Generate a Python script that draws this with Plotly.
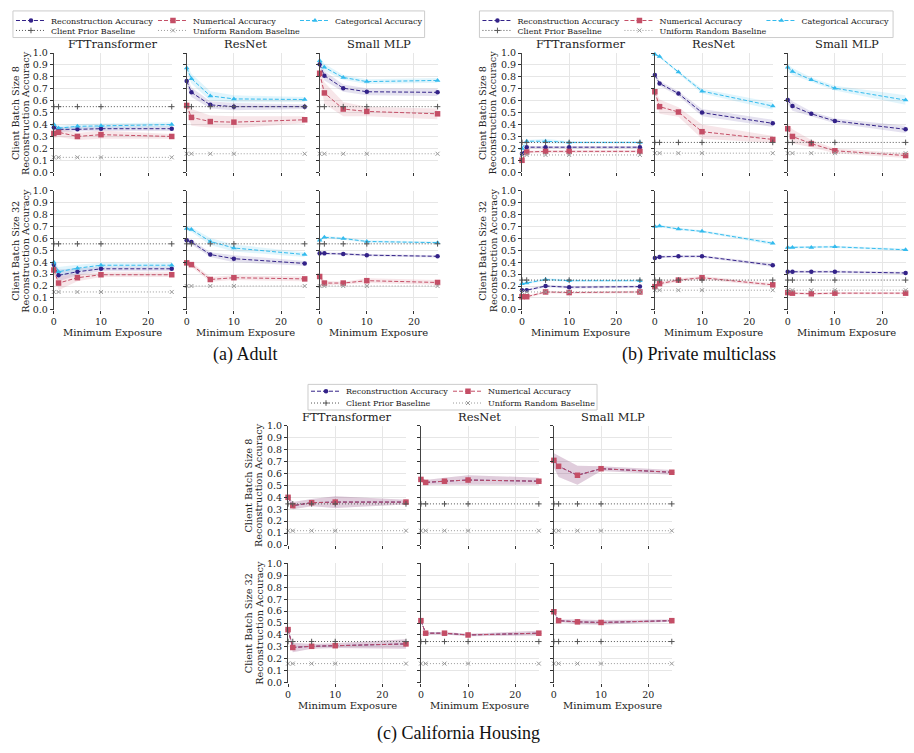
import plotly.graph_objects as go

W, H = 914, 753

# ---------------- data ----------------
X = [0, 1, 5, 10, 25]
MODELS = ["FTTransformer", "ResNet", "Small MLP"]
X_TICKS = [0, 10, 20]
Y_TICKS = [0.0, 0.1, 0.2, 0.3, 0.4, 0.5, 0.6, 0.7, 0.8, 0.9, 1.0]
Y_TICKTEXT = ["0.0", "0.1", "0.2", "0.3", "0.4", "0.5", "0.6", "0.7", "0.8", "0.9", "1.0"]
ROW_LABELS = ["Client Batch Size 8", "Client Batch Size 32"]
CAPTIONS = ["(a) Adult", "(b) Private multiclass", "(c) California Housing"]
SERIES_NAMES = ["Reconstruction Accuracy", "Numerical Accuracy", "Categorical Accuracy"]
BASELINE_NAMES = ["Client Prior Baseline", "Uniform Random Baseline"]

# Adult, batch 8 (per model: FTTransformer, ResNet, Small MLP)
adult_b8_recon = [[0.375, 0.36, 0.36, 0.365, 0.365], [0.765, 0.67, 0.565, 0.55, 0.55], [0.905, 0.81, 0.705, 0.675, 0.67]]
adult_b8_num = [[0.325, 0.335, 0.30, 0.315, 0.30], [0.56, 0.46, 0.425, 0.42, 0.44], [0.83, 0.665, 0.53, 0.51, 0.49]]
adult_b8_cat = [[0.40, 0.37, 0.385, 0.39, 0.40], [0.875, 0.785, 0.64, 0.615, 0.61], [0.935, 0.88, 0.795, 0.76, 0.77]]
adult_b8_recon_err = [[0.02, 0.02, 0.02, 0.02, 0.02], [0.04, 0.04, 0.03, 0.03, 0.02], [0.03, 0.04, 0.03, 0.03, 0.03]]
adult_b8_num_err = [[0.04, 0.04, 0.03, 0.035, 0.02], [0.04, 0.07, 0.05, 0.05, 0.03], [0.04, 0.09, 0.06, 0.04, 0.045]]
adult_b8_cat_err = [[0.02, 0.02, 0.02, 0.02, 0.02], [0.03, 0.04, 0.04, 0.03, 0.02], [0.03, 0.03, 0.02, 0.02, 0.02]]
adult_b8_prior = [0.55, 0.55, 0.55]
adult_b8_uniform = [0.125, 0.155, 0.155]

# Adult, batch 32
adult_b32_recon = [[0.38, 0.29, 0.32, 0.345, 0.345], [0.585, 0.57, 0.465, 0.43, 0.39], [0.475, 0.475, 0.47, 0.46, 0.45]]
adult_b32_num = [[0.335, 0.225, 0.27, 0.295, 0.295], [0.395, 0.38, 0.255, 0.27, 0.26], [0.28, 0.225, 0.225, 0.245, 0.23]]
adult_b32_cat = [[0.40, 0.32, 0.35, 0.375, 0.375], [0.685, 0.675, 0.575, 0.52, 0.465], [0.585, 0.61, 0.60, 0.575, 0.565]]
adult_b32_recon_err = [[0.03, 0.05, 0.03, 0.02, 0.02], [0.02, 0.02, 0.02, 0.03, 0.02], [0.01, 0.01, 0.01, 0.01, 0.01]]
adult_b32_num_err = [[0.03, 0.06, 0.03, 0.02, 0.02], [0.02, 0.02, 0.02, 0.02, 0.02], [0.02, 0.02, 0.01, 0.02, 0.02]]
adult_b32_cat_err = [[0.02, 0.04, 0.03, 0.02, 0.02], [0.02, 0.02, 0.03, 0.03, 0.02], [0.01, 0.01, 0.01, 0.01, 0.01]]
adult_b32_prior = [0.555, 0.555, 0.555]
adult_b32_uniform = [0.15, 0.20, 0.20]

# Private multiclass, batch 8
priv_b8_recon = [[0.155, 0.21, 0.21, 0.21, 0.21], [0.815, 0.745, 0.66, 0.50, 0.41], [0.605, 0.555, 0.49, 0.43, 0.36]]
priv_b8_num = [[0.10, 0.17, 0.175, 0.175, 0.175], [0.675, 0.55, 0.505, 0.34, 0.275], [0.365, 0.30, 0.24, 0.18, 0.14]]
priv_b8_cat = [[0.20, 0.26, 0.26, 0.25, 0.25], [0.99, 0.97, 0.84, 0.68, 0.555], [0.88, 0.845, 0.775, 0.705, 0.605]]
priv_b8_recon_err = [[0.02, 0.01, 0.01, 0.01, 0.01], [0.02, 0.02, 0.02, 0.03, 0.03], [0.03, 0.04, 0.02, 0.02, 0.03]]
priv_b8_num_err = [[0.02, 0.01, 0.01, 0.01, 0.01], [0.03, 0.06, 0.04, 0.06, 0.03], [0.04, 0.06, 0.03, 0.02, 0.02]]
priv_b8_cat_err = [[0.02, 0.01, 0.02, 0.01, 0.01], [0.01, 0.01, 0.01, 0.02, 0.03], [0.03, 0.03, 0.02, 0.02, 0.04]]
priv_b8_prior = [0.25, 0.25, 0.25]
priv_b8_uniform = [0.145, 0.16, 0.16]

# Private multiclass, batch 32
priv_b32_recon = [[0.165, 0.165, 0.20, 0.19, 0.195], [0.435, 0.445, 0.45, 0.45, 0.375], [0.32, 0.32, 0.32, 0.32, 0.31]]
priv_b32_num = [[0.11, 0.11, 0.15, 0.145, 0.15], [0.195, 0.22, 0.25, 0.27, 0.21], [0.145, 0.14, 0.135, 0.14, 0.14]]
priv_b32_cat = [[0.22, 0.225, 0.255, 0.245, 0.245], [0.70, 0.705, 0.68, 0.66, 0.56], [0.525, 0.525, 0.525, 0.53, 0.505]]
priv_b32_recon_err = [[0.01, 0.01, 0.01, 0.01, 0.01], [0.01, 0.01, 0.01, 0.01, 0.015], [0.01, 0.01, 0.01, 0.01, 0.01]]
priv_b32_num_err = [[0.01, 0.01, 0.01, 0.01, 0.01], [0.015, 0.015, 0.015, 0.015, 0.015], [0.01, 0.01, 0.01, 0.01, 0.01]]
priv_b32_cat_err = [[0.01, 0.01, 0.01, 0.01, 0.01], [0.01, 0.01, 0.01, 0.01, 0.015], [0.01, 0.01, 0.01, 0.01, 0.01]]
priv_b32_prior = [0.25, 0.25, 0.25]
priv_b32_uniform = [0.15, 0.165, 0.165]

# California Housing (numerical only: reconstruction == numerical)
cal_b8_recon = [[0.40, 0.33, 0.355, 0.36, 0.36], [0.55, 0.525, 0.535, 0.545, 0.535], [0.71, 0.66, 0.585, 0.64, 0.61]]
cal_b8_num = [[0.40, 0.33, 0.355, 0.36, 0.36], [0.55, 0.525, 0.535, 0.545, 0.535], [0.71, 0.66, 0.585, 0.64, 0.61]]
cal_b8_err = [[0.01, 0.03, 0.03, 0.05, 0.02], [0.02, 0.02, 0.03, 0.04, 0.03], [0.06, 0.09, 0.08, 0.02, 0.02]]
cal_b8_prior = [0.345, 0.345, 0.345]
cal_b8_uniform = [0.12, 0.12, 0.12]

cal_b32_recon = [[0.445, 0.295, 0.305, 0.31, 0.325], [0.52, 0.415, 0.415, 0.40, 0.415], [0.595, 0.52, 0.51, 0.505, 0.52]]
cal_b32_num = [[0.445, 0.295, 0.305, 0.31, 0.325], [0.52, 0.415, 0.415, 0.40, 0.415], [0.595, 0.52, 0.51, 0.505, 0.52]]
cal_b32_err = [[0.01, 0.04, 0.02, 0.02, 0.04], [0.01, 0.01, 0.01, 0.01, 0.02], [0.01, 0.01, 0.02, 0.02, 0.01]]
cal_b32_prior = [0.345, 0.345, 0.345]
cal_b32_uniform = [0.16, 0.16, 0.16]

# ---------------- styles ----------------
C_RECON = "#332288"
C_NUM = "#c44e66"
C_CAT = "#33bbee"
C_PRIOR = "#555555"
C_UNIF = "#9a9a9a"
F_RECON = "rgba(51,34,136,0.13)"
F_NUM = "rgba(196,78,102,0.14)"
F_CAT = "rgba(51,187,238,0.15)"
SERIF = "DejaVu Serif"

# group geometry in pixels
GROUPS = [
    dict(cols=[(51, 169.3), (184.3, 302.7), (317.7, 436)], rows=[(47.7, 168.7), (187.7, 308.3)],
         title_y=39, xtitle_y=331, ylab_x=(12.5, 22.5), legend_x=8, legend_rows=(13, 24.6),
         box=(10, 5, 423, 32), caption=(243, 354)),
    dict(cols=[(520.7, 639), (654, 772.3), (787.3, 905.6)], rows=[(47.7, 168.7), (187.7, 308.3)],
         title_y=39, xtitle_y=331, ylab_x=(481, 491.5), legend_x=476, legend_rows=(13, 24.6),
         box=(478, 5, 893, 32), caption=(698, 354)),
    dict(cols=[(286, 404.3), (419.3, 537.6), (552.7, 671)], rows=[(426, 547), (565.7, 686.7)],
         title_y=417.5, xtitle_y=709.5, ylab_x=(246, 256.5), legend_x=304, legend_rows=(390.7, 402.7),
         box=(306, 384, 596, 410), caption=(457, 738)),
]

DATA = [
    [  # Adult
        dict(recon=adult_b8_recon, num=adult_b8_num, cat=adult_b8_cat, recon_err=adult_b8_recon_err,
             num_err=adult_b8_num_err, cat_err=adult_b8_cat_err, prior=adult_b8_prior, unif=adult_b8_uniform),
        dict(recon=adult_b32_recon, num=adult_b32_num, cat=adult_b32_cat, recon_err=adult_b32_recon_err,
             num_err=adult_b32_num_err, cat_err=adult_b32_cat_err, prior=adult_b32_prior, unif=adult_b32_uniform),
    ],
    [  # Private multiclass
        dict(recon=priv_b8_recon, num=priv_b8_num, cat=priv_b8_cat, recon_err=priv_b8_recon_err,
             num_err=priv_b8_num_err, cat_err=priv_b8_cat_err, prior=priv_b8_prior, unif=priv_b8_uniform),
        dict(recon=priv_b32_recon, num=priv_b32_num, cat=priv_b32_cat, recon_err=priv_b32_recon_err,
             num_err=priv_b32_num_err, cat_err=priv_b32_cat_err, prior=priv_b32_prior, unif=priv_b32_uniform),
    ],
    [  # California Housing
        dict(recon=cal_b8_recon, num=cal_b8_num, cat=None, recon_err=cal_b8_err,
             num_err=cal_b8_err, cat_err=None, prior=cal_b8_prior, unif=cal_b8_uniform),
        dict(recon=cal_b32_recon, num=cal_b32_num, cat=None, recon_err=cal_b32_err,
             num_err=cal_b32_err, cat_err=None, prior=cal_b32_prior, unif=cal_b32_uniform),
    ],
]

LEG_TEXT_CENTER = 14.5  # px from legend top to the centre of its text row


def fx(p):
    return p / W


def fy(p):
    return 1 - p / H


fig = go.Figure()
layout = dict(
    width=W, height=H, margin=dict(l=0, r=0, t=0, b=0),
    paper_bgcolor="white", plot_bgcolor="white",
    font=dict(family=SERIF, size=10, color="#222"),
)
annotations = []
shapes = []

k = 0
for gi, geo in enumerate(GROUPS):
    leg_main = "legend" if gi == 0 else f"legend{2 * gi + 1}"
    leg_base = f"legend{2 * gi + 2}"
    for ri in range(2):
        d = DATA[gi][ri]
        y0p, y1p = geo["rows"][ri]
        for ci in range(3):
            k += 1
            xa = "x" if k == 1 else f"x{k}"
            ya = "y" if k == 1 else f"y{k}"
            x0p, x1p = geo["cols"][ci]
            first = (ri == 0 and ci == 0)
            layout["xaxis" if k == 1 else f"xaxis{k}"] = dict(
                domain=[fx(x0p), fx(x1p)], anchor=ya, range=[0, 25],
                tickvals=X_TICKS, ticks="outside", ticklen=3, tickwidth=1, tickcolor="#333",
                showticklabels=(ri == 1), tickfont=dict(family=SERIF, size=9.5, color="#222"),
                showgrid=True, gridcolor="#e6e6e6", gridwidth=0.8, zeroline=False, showline=False,
                title=dict(text=""),
            )
            layout["yaxis" if k == 1 else f"yaxis{k}"] = dict(
                domain=[fy(y1p), fy(y0p)], anchor=xa, range=[0, 1.0],
                tickvals=Y_TICKS, ticktext=Y_TICKTEXT, ticks="outside", ticklen=3, tickwidth=1, tickcolor="#333",
                showticklabels=(ci == 0), tickfont=dict(family=SERIF, size=9.5, color="#222"),
                showgrid=True, gridcolor="#e6e6e6", gridwidth=0.8, zeroline=False,
                showline=True, linecolor="#444", linewidth=1.2,
            )

            series = [
                (SERIES_NAMES[0], d["recon"], d["recon_err"], C_RECON, F_RECON, "circle", 4.5),
                (SERIES_NAMES[1], d["num"], d["num_err"], C_NUM, F_NUM, "square", 5.5),
            ]
            if d["cat"] is not None:
                series.append((SERIES_NAMES[2], d["cat"], d["cat_err"], C_CAT, F_CAT, "triangle-up", 5))

            # bands
            for name, vals, errs, col, fcol, sym, ms in series:
                v = vals[ci]
                e = errs[ci]
                upper = [a + b for a, b in zip(v, e)]
                lower = [a - b for a, b in zip(v, e)]
                fig.add_trace(go.Scatter(
                    x=X + X[::-1], y=upper + lower[::-1], fill="toself", fillcolor=fcol,
                    line=dict(width=0), mode="lines", hoverinfo="skip", showlegend=False,
                    xaxis=xa, yaxis=ya,
                ))
            # lines
            for name, vals, errs, col, fcol, sym, ms in series:
                fig.add_trace(go.Scatter(
                    x=X, y=vals[ci], mode="lines+markers", name=name,
                    line=dict(color=col, width=1, dash="4px,2px"),
                    marker=dict(symbol=sym, size=ms, color=col),
                    showlegend=first, legend=leg_main, cliponaxis=False,
                    xaxis=xa, yaxis=ya,
                ))
            # baselines
            for name, val, col, sym in [
                (BASELINE_NAMES[0], d["prior"][ci], C_PRIOR, "cross-thin"),
                (BASELINE_NAMES[1], d["unif"][ci], C_UNIF, "x-thin"),
            ]:
                fig.add_trace(go.Scatter(
                    x=X, y=[val] * len(X), mode="lines+markers", name=name,
                    line=dict(color=col, width=1, dash="1px,2px"),
                    marker=dict(symbol=sym, size=4, color=col, line=dict(width=1, color=col)),
                    showlegend=first, legend=leg_base, cliponaxis=False,
                    xaxis=xa, yaxis=ya,
                ))
            if first:
                # empty spacer entry so the last real legend label is not clipped
                fig.add_trace(go.Scatter(
                    x=[None], y=[None], mode="markers", name=" ",
                    marker=dict(color="rgba(0,0,0,0)", size=1),
                    showlegend=True, legend=leg_base, hoverinfo="skip", xaxis=xa, yaxis=ya,
                ))

            # column title
            if ri == 0:
                annotations.append(dict(
                    text=MODELS[ci], x=fx((x0p + x1p) / 2), y=fy(geo["title_y"]), xref="paper", yref="paper",
                    xanchor="center", yanchor="middle", showarrow=False,
                    font=dict(family=SERIF, size=11.5, color="#222"),
                ))
            else:
                annotations.append(dict(
                    text="Minimum Exposure", x=fx((x0p + x1p) / 2), y=fy(geo["xtitle_y"]), xref="paper",
                    yref="paper", xanchor="center", yanchor="middle", showarrow=False,
                    font=dict(family=SERIF, size=10, color="#222"),
                ))
        # y labels (two lines)
        ymid = fy((y0p + y1p) / 2)
        for txt, xp in [(ROW_LABELS[ri], geo["ylab_x"][0]), ("Reconstruction Accuracy", geo["ylab_x"][1])]:
            annotations.append(dict(
                text=txt, x=fx(xp), y=ymid, xref="paper", yref="paper", textangle=-90,
                xanchor="center", yanchor="middle", showarrow=False,
                font=dict(family=SERIF, size=9.7, color="#222"),
            ))

    # legends
    for lname, ypx in [(leg_main, geo["legend_rows"][0]), (leg_base, geo["legend_rows"][1])]:
        top = max(0.0, ypx - LEG_TEXT_CENTER)
        layout[lname] = dict(
            orientation="h", x=fx(geo["legend_x"]), y=fy(top), xanchor="left", yanchor="top",
            xref="paper", yref="paper", bgcolor="rgba(0,0,0,0)", borderwidth=0,
            font=dict(family=SERIF, size=8, color="#222"), entrywidth=97, entrywidthmode="pixels",
            itemwidth=30, traceorder="normal",
        )
    bx0, by0, bx1, by1 = geo["box"]
    shapes.append(dict(type="rect", xref="paper", yref="paper", x0=fx(bx0), x1=fx(bx1), y0=fy(by1), y1=fy(by0),
                       line=dict(color="#cccccc", width=1), fillcolor="rgba(255,255,255,0.8)", layer="below"))
    annotations.append(dict(
        text=CAPTIONS[gi], x=fx(geo["caption"][0]), y=fy(geo["caption"][1]), xref="paper", yref="paper",
        xanchor="center", yanchor="middle", showarrow=False,
        font=dict(family="Liberation Serif", size=18, color="#111"),
    ))

layout["annotations"] = annotations
layout["shapes"] = shapes
fig.update_layout(**layout)
fig.write_html("out.html")
